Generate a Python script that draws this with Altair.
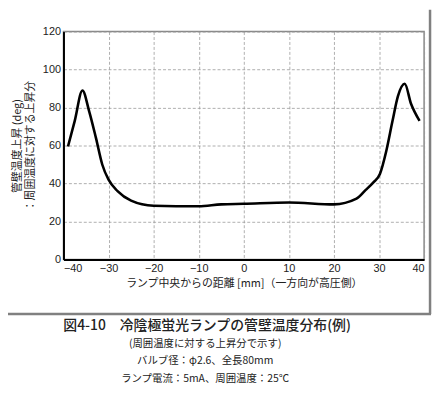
import altair as alt
import pandas as pd

# distance from lamp centre [mm]
xs = [-39, -37.5, -35.8, -34.3, -32.8, -31.4, -30, -28, -25, -20, -10, -5, 0, 10, 20, 25, 27, 28.7, 30.2, 31.6, 33, 34.2, 35.7, 37.1, 39]
# wall temperature rise [deg]
ys = [59.5, 73, 89, 78, 64, 50, 42, 36, 31, 28.3, 28, 29, 29.3, 30, 29, 32, 36.5, 40.5, 45, 57, 73, 86, 92.5, 82, 73]

x_ticks = [-40, -30, -20, -10, 0, 10, 20, 30, 40]
y_ticks = [0, 20, 40, 60, 80, 100, 120]

caption = "図4-10　冷陰極蛍光ランプの管壁温度分布(例)"
sub_lines = ["(周囲温度に対する上昇分で示す)", "バルブ径：φ2.6、全長80mm", "ランプ電流：5mA、周囲温度：25℃"]

df = pd.DataFrame({"x": xs, "y": ys})
FONT = "Noto Sans CJK JP"

axis_style = dict(grid=True, gridColor="#9a9a9a", gridDash=[3, 2], gridWidth=0.8,
                  domainColor="black", domainWidth=2, ticks=False,
                  labelColor="#222", titleColor="#222",
                  titleFont=FONT, titleFontSize=11, titleFontWeight="normal",
                  labelFont="Liberation Sans", labelFontSize=11, labelPadding=3)

line = alt.Chart(df).mark_line(color="black", strokeWidth=2.6, interpolate="monotone").encode(
    x=alt.X("x:Q", scale=alt.Scale(domain=[-40, 40], nice=False),
            axis=alt.Axis(values=x_ticks, title="ランプ中央からの距離 [mm]（一方向が高圧側）",
                          titlePadding=4, **axis_style)),
    y=alt.Y("y:Q", scale=alt.Scale(domain=[0, 120], nice=False),
            axis=alt.Axis(values=y_ticks, title=["管壁温度上昇 (deg)", "：周囲温度に対する上昇分"],
                          titlePadding=7, **axis_style)),
)

one = pd.DataFrame({"a": [0]})
frame_right = alt.Chart(one).mark_rule(color="gray", strokeWidth=2.5).encode(
    x=alt.value(370), y=alt.value(-22), y2=alt.value(285))
frame_bottom = alt.Chart(one).mark_rule(color="gray", strokeWidth=2.5).encode(
    x=alt.value(-56), x2=alt.value(371), y=alt.value(285))

cap1 = alt.Chart(one).mark_text(font=FONT, fontSize=14, fontWeight=500, color="#222",
                                align="center", baseline="middle").encode(
    x=alt.value(145), y=alt.value(297), text=alt.value(caption))
sub_layers = [
    alt.Chart(one).mark_text(font=FONT, fontSize=10.5, color="#222",
                             align="center", baseline="middle").encode(
        x=alt.value(143), y=alt.value(315 + 18 * i), text=alt.value(s))
    for i, s in enumerate(sub_lines)
]

chart = alt.layer(frame_right, frame_bottom, line, cap1, *sub_layers).properties(
    width=364, height=230,
    autosize=alt.AutoSizeParams(type="none"),
    padding={"left": 56, "top": 22, "right": 10, "bottom": 132},
    view=alt.ViewBackground(stroke="#888888", strokeWidth=1.5),
)

chart.save("out.html", embed_options={"renderer": "svg", "actions": False})
